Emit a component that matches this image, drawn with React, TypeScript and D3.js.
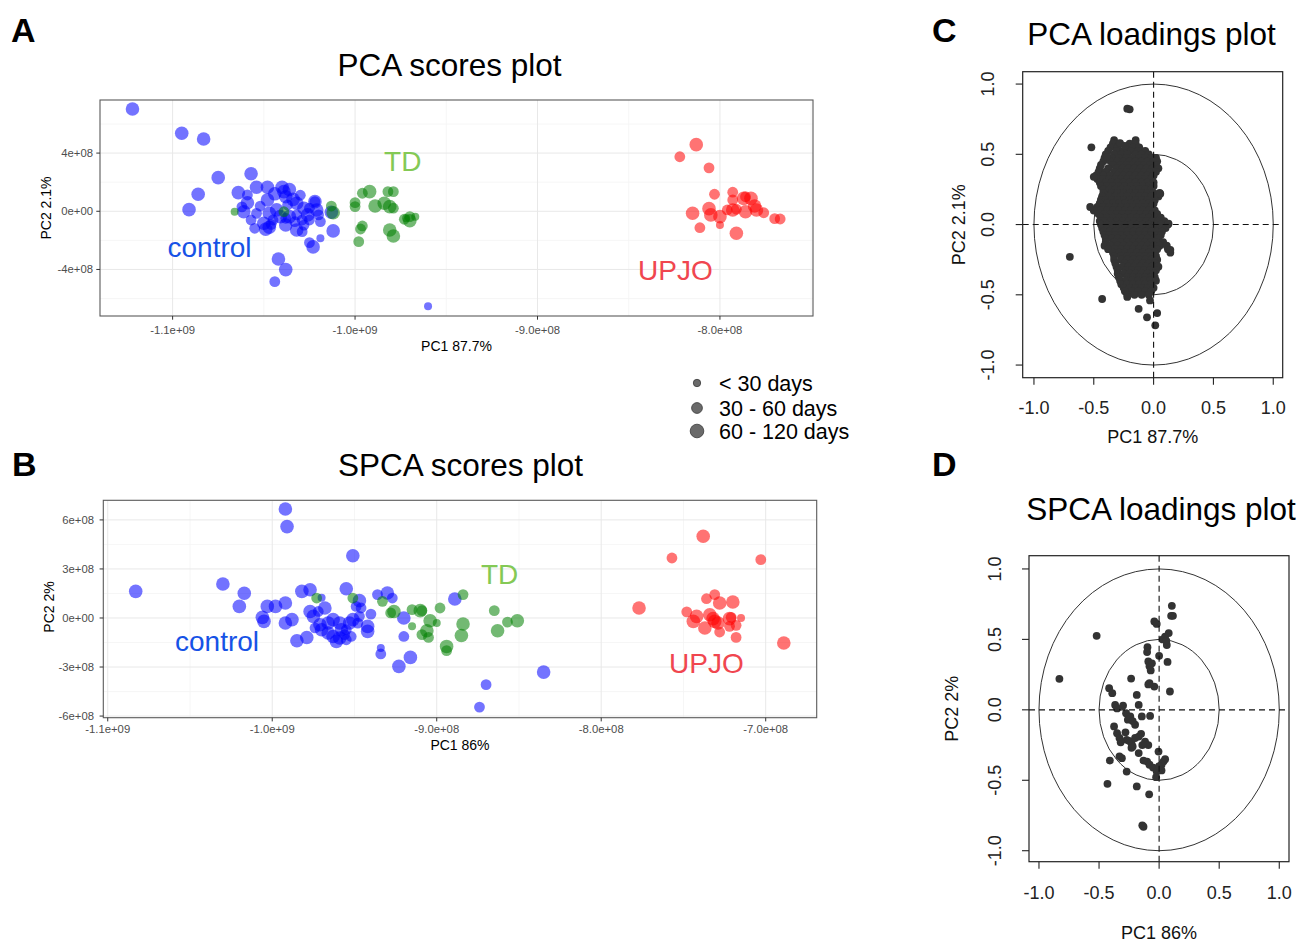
import React from "react";
import * as d3 from "d3";

type ScorePt = [number, number, number]; // [PC1 (x1e8), PC2 (x1e8), size class 1..3]
type LoadPt = [number, number];

// ---------------- Panel A: PCA scores (units of 1e8) ----------------
const pcaControl: ScorePt[] = [
  [-11.22, 7.03, 3], [-10.95, 5.36, 3], [-10.83, 4.97, 3], [-10.75, 2.31, 3], [-10.86, 1.17, 3],
  [-10.91, 0.11, 3], [-10.57, 2.58, 3], [-10.42, -3.28, 3], [-10.38, -4.01, 3], [-10.44, -4.84, 2],
  [-9.6, -6.53, 1], [-10.23, -2.45, 3], [-10.25, -2.16, 2], [-10.19, -1.86, 1], [-10.12, -1.35, 3],
  [-10.13, -0.07, 3], [-10.22, 0.66, 2], [-10.64, 1.28, 3], [-10.59, 1.12, 2], [-10.54, 1.65, 3],
  [-10.48, 1.65, 3], [-10.4, 1.65, 3], [-10.39, 1.35, 3], [-10.59, 0.59, 3], [-10.61, -0.03, 3],
  [-10.54, -0.14, 2], [-10.57, -0.6, 2], [-10.48, 0.78, 3], [-10.52, 0.36, 2], [-10.47, -0.14, 3],
  [-10.5, -0.82, 3], [-10.55, -1.17, 2], [-10.49, -1.24, 3], [-10.47, -1.1, 3], [-10.45, -0.6, 2],
  [-10.41, -0.37, 3], [-10.38, 1.0, 3], [-10.34, 0.82, 3], [-10.32, 0.55, 3], [-10.37, 0.43, 2],
  [-10.38, -0.48, 2], [-10.36, -0.37, 3], [-10.32, -0.25, 2], [-10.38, -0.94, 3], [-10.32, -1.29, 3],
  [-10.29, -1.4, 2], [-10.28, 0.21, 3], [-10.26, -0.25, 3], [-10.25, 0.21, 2], [-10.22, 0.66, 3],
  [-10.21, 0.09, 3], [-10.2, -0.25, 2], [-10.19, -0.71, 2], [-10.25, -0.6, 2], [-10.29, -0.6, 2],
  [-10.33, -0.71, 2], [-10.62, 0.3, 2], [-10.44, 1.2, 3], [-10.36, 1.5, 3], [-10.3, 1.1, 2],
  [-10.43, 0.1, 3], [-10.46, -0.9, 2], [-10.28, -0.95, 2],
];
const pcaTD: ScorePt[] = [
  [-10.66, -0.03, 1], [-10.39, -0.03, 2], [-10.13, 0.36, 2], [-10.12, -0.1, 3], [-9.96, 1.24, 2],
  [-9.92, 1.35, 3], [-10.0, 0.59, 2], [-10.0, 0.32, 2], [-9.89, 0.36, 3], [-9.82, 1.35, 2],
  [-9.79, 1.35, 2], [-9.84, 0.55, 3], [-9.81, 0.32, 3], [-9.79, 0.21, 2], [-9.96, -1.01, 2],
  [-9.97, -1.22, 2], [-9.98, -2.09, 2], [-9.81, -1.29, 3], [-9.79, -1.7, 3], [-9.73, -0.55, 2],
  [-9.7, -0.65, 3], [-9.7, -0.37, 2], [-9.67, -0.37, 1], [-9.72, -0.48, 1],
];
const pcaUPJO: ScorePt[] = [
  [-8.13, 4.58, 3], [-8.22, 3.75, 2], [-8.06, 2.98, 2], [-8.03, 1.17, 2], [-7.93, 1.31, 2],
  [-7.93, 0.78, 2], [-7.87, 0.89, 3], [-7.83, 0.89, 3], [-7.81, 0.36, 3], [-7.86, 1.0, 2],
  [-7.93, 0.09, 3], [-7.91, 0.14, 2], [-7.86, -0.03, 3], [-7.8, 0.09, 3], [-7.76, -0.1, 2],
  [-7.7, -0.51, 2], [-7.67, -0.53, 2], [-8.15, -0.14, 3], [-8.06, 0.18, 3], [-8.05, -0.25, 3],
  [-8.0, -0.37, 3], [-8.0, -0.94, 1], [-8.11, -1.13, 2], [-7.91, -1.51, 3], [-7.96, 0.09, 2],
];

// ---------------- Panel B: SPCA scores (units of 1e8) ----------------
const spcaControl: ScorePt[] = [
  [-10.83, 1.63, 3], [-10.3, 2.08, 3], [-10.17, 1.51, 3], [-10.2, 0.71, 3], [-9.92, 6.67, 3],
  [-9.91, 5.59, 3], [-9.51, 3.81, 3], [-10.06, 0.04, 3], [-10.05, -0.21, 3], [-10.03, 0.71, 3],
  [-9.98, 0.71, 3], [-9.92, 0.92, 3], [-9.92, -0.31, 3], [-9.88, -0.1, 3], [-9.85, -1.39, 3],
  [-9.79, -1.19, 3], [-9.82, 1.63, 3], [-9.77, 1.73, 3], [-9.55, 1.79, 3], [-9.47, 1.06, 3],
  [-9.46, 0.61, 2], [-9.4, 0.24, 2], [-9.42, -0.51, 3], [-9.42, -0.82, 3], [-9.36, 1.43, 2],
  [-9.3, 1.53, 3], [-9.27, 1.22, 2], [-9.2, 0.0, 3], [-9.2, -1.13, 2], [-9.34, -1.84, 1],
  [-9.34, -2.2, 2], [-9.23, -2.96, 3], [-9.16, -2.41, 3], [-9.77, 0.4, 3], [-9.75, 0.1, 3],
  [-9.72, 0.4, 2], [-9.68, 0.61, 3], [-9.71, -0.41, 3], [-9.74, -0.61, 2], [-9.7, -0.72, 3],
  [-9.66, -0.92, 3], [-9.63, -1.13, 3], [-9.59, -1.22, 3], [-9.55, -1.33, 2], [-9.61, -1.43, 3],
  [-9.66, -0.31, 3], [-9.63, -0.1, 3], [-9.59, -0.31, 3], [-9.58, -0.72, 3], [-9.55, -0.72, 2],
  [-9.53, -0.31, 3], [-9.51, -0.1, 3], [-9.48, -0.31, 2], [-9.47, 0.1, 2], [-9.52, -1.13, 2],
  [-9.56, -1.02, 2], [-9.49, 0.71, 2], [-8.89, 1.16, 3], [-8.35, -3.31, 3], [-8.7, -4.08, 2],
  [-8.74, -5.45, 2], [-9.7, 1.24, 1],
];
const spcaTD: ScorePt[] = [
  [-9.73, 1.22, 2], [-9.51, 1.22, 2], [-9.33, 1.02, 2], [-9.28, 0.31, 2], [-9.26, 0.4, 3],
  [-9.15, 0.51, 2], [-9.15, -0.51, 1], [-9.09, 0.45, 2], [-9.06, -0.78, 3], [-9.09, -1.02, 2],
  [-9.05, -1.19, 2], [-8.98, 0.61, 2], [-9.04, -0.17, 3], [-9.0, -0.31, 1], [-8.94, -1.74, 3],
  [-8.94, -2.0, 2], [-8.84, 1.43, 2], [-9.1, 0.45, 3], [-8.84, -0.37, 3], [-8.85, -1.07, 3],
  [-8.65, 0.45, 2], [-8.63, -0.78, 3], [-8.57, -0.25, 2], [-8.51, -0.17, 3],
];
const spcaUPJO: ScorePt[] = [
  [-7.38, 5.0, 3], [-7.57, 3.67, 2], [-7.03, 3.57, 2], [-7.77, 0.61, 3], [-7.36, 1.18, 2],
  [-7.31, 1.43, 2], [-7.28, 0.92, 3], [-7.2, 0.98, 3], [-7.48, 0.37, 2], [-7.42, 0.1, 3],
  [-7.44, -0.21, 3], [-7.37, -0.61, 3], [-7.34, 0.2, 3], [-7.32, -0.04, 3], [-7.29, -0.31, 3],
  [-7.28, -0.86, 2], [-7.22, -0.04, 3], [-7.21, 0.04, 2], [-7.18, -0.45, 2], [-7.15, 0.0, 1],
  [-7.22, -0.51, 2], [-7.18, -1.19, 2], [-6.89, -1.53, 3], [-7.31, -0.21, 3],
];

// Tick values and labels for score plots
const pcaXTicks = [-11, -10, -9, -8];
const pcaXTickLabels = ["-1.1e+09", "-1.0e+09", "-9.0e+08", "-8.0e+08"];
const pcaXMinor = [-10.5, -9.5, -8.5, -7.5];
const pcaYTicks = [4, 0, -4];
const pcaYTickLabels = ["4e+08", "0e+00", "-4e+08"];
const pcaYMinor = [6, 2, -2, -6];

const spcaXTicks = [-11, -10, -9, -8, -7];
const spcaXTickLabels = ["-1.1e+09", "-1.0e+09", "-9.0e+08", "-8.0e+08", "-7.0e+08"];
const spcaXMinor = [-10.5, -9.5, -8.5, -7.5];
const spcaYTicks = [6, 3, 0, -3, -6];
const spcaYTickLabels = ["6e+08", "3e+08", "0e+00", "-3e+08", "-6e+08"];
const spcaYMinor = [4.5, 1.5, -1.5, -4.5];

const sizeLegend = ["< 30 days", "30 - 60 days", "60 - 120 days"];

// ---------------- Panel C: PCA loadings ----------------
// dense cloud typed row by row: [PC2, PC1 values]
const pcaLoadRows: [number, number[]][] = [
  [0.6, [-0.33, -0.15]],
  [0.575, [-0.34, -0.29, -0.2, -0.15]],
  [0.55, [-0.36, -0.3, -0.22, -0.17, -0.12]],
  [0.525, [-0.38, -0.31, -0.25, -0.19, -0.13, -0.07]],
  [0.5, [-0.4, -0.33, -0.27, -0.22, -0.15, -0.1, -0.04]],
  [0.475, [-0.41, -0.35, -0.29, -0.23, -0.18, -0.12, -0.07, -0.02, 0.02]],
  [0.45, [-0.42, -0.36, -0.3, -0.25, -0.2, -0.15, -0.1, -0.05, 0.0, 0.03]],
  [0.425, [-0.44, -0.34, -0.28, -0.23, -0.18, -0.13, -0.08, -0.03, 0.02]],
  [0.4, [-0.45, -0.38, -0.31, -0.26, -0.21, -0.16, -0.11, -0.06, -0.01, 0.04]],
  [0.375, [-0.46, -0.4, -0.33, -0.28, -0.23, -0.18, -0.13, -0.08, -0.03, 0.02]],
  [0.35, [-0.48, -0.42, -0.36, -0.3, -0.25, -0.2, -0.15, -0.1, -0.05, 0.0]],
  [0.325, [-0.47, -0.42, -0.37, -0.32, -0.27, -0.22, -0.17, -0.12, -0.07, -0.02]],
  [0.3, [-0.45, -0.4, -0.35, -0.3, -0.25, -0.2, -0.15, -0.1, -0.05, 0.0]],
  [0.275, [-0.44, -0.39, -0.34, -0.29, -0.24, -0.19, -0.14, -0.09, -0.04, 0.0]],
  [0.25, [-0.42, -0.37, -0.32, -0.27, -0.22, -0.17, -0.12, -0.07, -0.02]],
  [0.225, [-0.42, -0.35, -0.3, -0.25, -0.2, -0.15, -0.1, -0.05, 0.0, 0.05]],
  [0.2, [-0.43, -0.37, -0.32, -0.27, -0.22, -0.17, -0.12, -0.07, -0.02, 0.04]],
  [0.175, [-0.44, -0.4, -0.35, -0.3, -0.25, -0.2, -0.15, -0.1, -0.05, 0.01]],
  [0.15, [-0.45, -0.39, -0.34, -0.29, -0.24, -0.19, -0.14, -0.09, -0.04, 0.0]],
  [0.125, [-0.47, -0.42, -0.37, -0.32, -0.27, -0.22, -0.17, -0.12, -0.07, -0.02]],
  [0.1, [-0.5, -0.44, -0.39, -0.34, -0.29, -0.24, -0.19, -0.14, -0.09, -0.04, 0.01]],
  [0.075, [-0.46, -0.41, -0.36, -0.31, -0.26, -0.21, -0.16, -0.11, -0.06, -0.01, 0.03]],
  [0.05, [-0.44, -0.39, -0.34, -0.29, -0.24, -0.19, -0.14, -0.09, -0.04, 0.01, 0.06]],
  [0.025, [-0.45, -0.41, -0.36, -0.31, -0.26, -0.21, -0.16, -0.11, -0.06, -0.01, 0.04, 0.09]],
  [0.0, [-0.44, -0.39, -0.34, -0.29, -0.24, -0.19, -0.14, -0.09, -0.04, 0.01, 0.06, 0.12]],
  [-0.025, [-0.43, -0.39, -0.34, -0.29, -0.24, -0.19, -0.14, -0.09, -0.04, 0.01, 0.05, 0.1]],
  [-0.05, [-0.42, -0.37, -0.32, -0.27, -0.22, -0.17, -0.12, -0.07, -0.02, 0.03, 0.07]],
  [-0.075, [-0.41, -0.37, -0.32, -0.27, -0.22, -0.17, -0.12, -0.07, -0.02, 0.02, 0.06]],
  [-0.1, [-0.4, -0.35, -0.3, -0.25, -0.2, -0.15, -0.1, -0.05, 0.0, 0.04]],
  [-0.125, [-0.4, -0.33, -0.27, -0.22, -0.17, -0.12, -0.07, -0.02, 0.02, 0.08]],
  [-0.15, [-0.41, -0.36, -0.3, -0.25, -0.2, -0.15, -0.1, -0.05, 0.0, 0.05, 0.11]],
  [-0.175, [-0.38, -0.32, -0.27, -0.22, -0.17, -0.12, -0.07, -0.02, 0.03, 0.12]],
  [-0.2, [-0.34, -0.29, -0.24, -0.19, -0.14, -0.09, -0.04, 0.01, 0.14]],
  [-0.225, [-0.33, -0.27, -0.22, -0.17, -0.12, -0.07, -0.02, 0.02]],
  [-0.25, [-0.33, -0.27, -0.22, -0.17, -0.12, -0.07, -0.02, 0.03]],
  [-0.275, [-0.32, -0.24, -0.19, -0.14, -0.09, -0.04, 0.01]],
  [-0.3, [-0.31, -0.26, -0.21, -0.16, -0.11, -0.06, -0.01, 0.04]],
  [-0.325, [-0.3, -0.23, -0.18, -0.13, -0.08, -0.03, 0.02]],
  [-0.35, [-0.3, -0.25, -0.2, -0.15, -0.1, -0.05, 0.0]],
  [-0.375, [-0.29, -0.22, -0.17, -0.12, -0.07, -0.02, 0.01]],
  [-0.4, [-0.28, -0.23, -0.18, -0.13, -0.08, -0.03, 0.02]],
  [-0.425, [-0.27, -0.22, -0.17, -0.12, -0.07, -0.02]],
  [-0.45, [-0.25, -0.2, -0.15, -0.1, -0.05, 0.0]],
  [-0.475, [-0.24, -0.18, -0.13, -0.07, -0.02]],
  [-0.5, [-0.22, -0.16, -0.1, -0.04]],
];
const pcaLoadOutliers: LoadPt[] = [
  [-0.52, 0.55], [-0.39, 0.48], [-0.5, 0.34], [-0.53, 0.125], [0.056, 0.22], [0.125, 0.007],
  [0.14, -0.18], [-0.22, -0.515], [-0.43, -0.53], [-0.125, -0.6], [-0.055, -0.66], [0.03, -0.63],
  [0.014, -0.717], [-0.03, -0.54], [-0.7, -0.23], [-0.22, 0.825], [-0.2, 0.82], [-0.28, 0.58],
  [-0.24, 0.56],
];

// ---------------- Panel D: SPCA loadings ----------------
const spcaLoad: LoadPt[] = [
  [0.106, 0.738], [0.1, 0.667], [0.115, 0.667], [-0.04, 0.627], [-0.02, 0.61], [-0.52, 0.525],
  [0.05, 0.52], [0.08, 0.545], [0.03, 0.5], [0.064, 0.46], [0.06, 0.49], [-0.097, 0.445],
  [-0.1, 0.41], [0.0, 0.383], [0.07, 0.34], [-0.09, 0.343], [-0.08, 0.31], [-0.07, 0.28],
  [-0.83, 0.22], [-0.233, 0.222], [-0.08, 0.19], [-0.04, 0.165], [0.09, 0.13], [-0.416, 0.154],
  [-0.39, 0.118], [-0.186, 0.106], [-0.366, 0.035], [-0.35, 0.01], [-0.17, 0.035], [-0.275, -0.024],
  [-0.24, -0.047], [-0.26, -0.07], [-0.144, -0.047], [-0.075, -0.043], [-0.2, -0.106], [-0.375, -0.118],
  [-0.35, -0.166], [-0.33, -0.2], [-0.27, -0.213], [-0.23, -0.237], [-0.23, -0.27], [-0.17, -0.19],
  [-0.15, -0.17], [-0.117, -0.225], [-0.09, -0.25], [-0.14, -0.25], [-0.17, -0.307], [-0.005, -0.296],
  [-0.31, -0.343], [-0.33, -0.33], [-0.41, -0.36], [-0.1, -0.367], [-0.08, -0.39], [-0.05, -0.41],
  [-0.02, -0.438], [0.036, -0.367], [0.05, -0.35], [0.02, -0.39], [0.02, -0.43], [0.0, -0.4],
  [-0.025, -0.478], [-0.27, -0.438], [-0.43, -0.525], [-0.186, -0.544], [-0.083, -0.6], [-0.13, -0.83],
  [-0.14, -0.82], [-0.22, -0.26], [-0.25, -0.22], [-0.28, -0.16], [-0.32, -0.23], [-0.2, -0.2],
  [-0.13, -0.36], [-0.06, 0.33], [-0.09, 0.18], [-0.22, -0.08], [-0.3, 0.03],
];

const loadTicks = [-1, -0.5, 0, 0.5, 1];
const loadTickLabels = ["-1.0", "-0.5", "0.0", "0.5", "1.0"];

// ---------------- rendering ----------------
const FONT = "'Liberation Sans', Arial, Helvetica, sans-serif";
const SIZE_R = [0, 4, 5.4, 6.8];
const BLUE = "#0000ff";
const GREEN = "#008000";
const RED = "#ff0000";

type Box = { l: number; r: number; t: number; b: number };

function ScoresPanel(p: any) {
  const { box } = p as { box: Box };
  const x = d3.scaleLinear().domain(p.xDomain).range([box.l, box.r]);
  const y = d3.scaleLinear().domain(p.yDomain).range([box.b, box.t]);
  return (
    <g>
      <rect x={box.l} y={box.t} width={box.r - box.l} height={box.b - box.t} fill="#fff" />
      {p.xMinor.map((v: number) => (
        <line key={"xm" + v} x1={x(v)} x2={x(v)} y1={box.t} y2={box.b} stroke="#f4f4f4" strokeWidth={0.8} />
      ))}
      {p.yMinor.map((v: number) => (
        <line key={"ym" + v} x1={box.l} x2={box.r} y1={y(v)} y2={y(v)} stroke="#f4f4f4" strokeWidth={0.8} />
      ))}
      {p.xTicks.map((v: number) => (
        <line key={"xg" + v} x1={x(v)} x2={x(v)} y1={box.t} y2={box.b} stroke="#e8e8e8" strokeWidth={1} />
      ))}
      {p.yTicks.map((v: number) => (
        <line key={"yg" + v} x1={box.l} x2={box.r} y1={y(v)} y2={y(v)} stroke="#e8e8e8" strokeWidth={1} />
      ))}
      {p.series.map((s: any, si: number) =>
        s.pts.map((d: ScorePt, i: number) => (
          <circle key={si + "-" + i} cx={x(d[0])} cy={y(d[1])} r={SIZE_R[d[2]]} fill={s.color} fillOpacity={0.55} />
        ))
      )}
      {p.labels.map((lb: any) => (
        <text key={lb.text} x={x(lb.x)} y={y(lb.y)} fill={lb.color} fontSize={28} fontFamily={FONT}>
          {lb.text}
        </text>
      ))}
      <rect x={box.l} y={box.t} width={box.r - box.l} height={box.b - box.t} fill="none" stroke="#5a5a5a" strokeWidth={1.1} />
      {p.xTicks.map((v: number, i: number) => (
        <g key={"xt" + v}>
          <line x1={x(v)} x2={x(v)} y1={box.b} y2={box.b + 3.7} stroke="#333" strokeWidth={1} />
          <text x={x(v)} y={p.xTickY} textAnchor="middle" fontSize={11.3} fill="#4d4d4d" fontFamily={FONT}>
            {p.xTickLabels[i]}
          </text>
        </g>
      ))}
      {p.yTicks.map((v: number, i: number) => (
        <g key={"yt" + v}>
          <line x1={box.l - 3.7} x2={box.l} y1={y(v)} y2={y(v)} stroke="#333" strokeWidth={1} />
          <text x={p.yTickX} y={y(v)} dy="0.35em" textAnchor="end" fontSize={11.3} fill="#4d4d4d" fontFamily={FONT}>
            {p.yTickLabels[i]}
          </text>
        </g>
      ))}
      <text x={(box.l + box.r) / 2} y={p.xTitleY} textAnchor="middle" fontSize={14} fill="#000" fontFamily={FONT}>
        {p.xTitle}
      </text>
      <text
        transform={`translate(${p.yTitleX},${p.yTitleY}) rotate(-90)`}
        textAnchor="middle"
        dominantBaseline="central"
        fontSize={14}
        fill="#000"
        fontFamily={FONT}
      >
        {p.yTitle}
      </text>
    </g>
  );
}

function LoadingsPanel(p: any) {
  const { box } = p as { box: Box };
  const x = d3.scaleLinear().domain(p.xDomain).range([box.l, box.r]);
  const y = d3.scaleLinear().domain(p.yDomain).range([box.b, box.t]);
  const pts: LoadPt[] = p.pts;
  return (
    <g>
      <ellipse cx={x(0)} cy={y(0)} rx={x(1) - x(0)} ry={y(0) - y(1)} fill="none" stroke="#333" strokeWidth={1} />
      <ellipse cx={x(0)} cy={y(0)} rx={x(0.5) - x(0)} ry={y(0) - y(0.5)} fill="none" stroke="#333" strokeWidth={1} />
      {pts.map((d, i) => (
        <circle key={i} cx={x(d[0])} cy={y(d[1])} r={3.9} fill="#333" />
      ))}
      <line x1={box.l} x2={box.r} y1={y(0)} y2={y(0)} stroke="#111" strokeWidth={1.1} strokeDasharray="6,4" />
      <line x1={x(0)} x2={x(0)} y1={box.t} y2={box.b} stroke="#111" strokeWidth={1.1} strokeDasharray="6,4" />
      <rect x={box.l} y={box.t} width={box.r - box.l} height={box.b - box.t} fill="none" stroke="#222" strokeWidth={1.2} />
      {loadTicks.map((v, i) => (
        <g key={"x" + v}>
          <line x1={x(v)} x2={x(v)} y1={box.b} y2={box.b + 7} stroke="#222" strokeWidth={1.1} />
          <text x={x(v)} y={p.xTickY} textAnchor="middle" fontSize={18} fill="#222" fontFamily={FONT}>
            {loadTickLabels[i]}
          </text>
        </g>
      ))}
      {loadTicks.map((v, i) => (
        <g key={"y" + v}>
          <line x1={box.l - 7} x2={box.l} y1={y(v)} y2={y(v)} stroke="#222" strokeWidth={1.1} />
          <text
            transform={`translate(${p.yTickX},${y(v)}) rotate(-90)`}
            textAnchor="middle"
            dominantBaseline="central"
            fontSize={18}
            fill="#222"
            fontFamily={FONT}
          >
            {loadTickLabels[i]}
          </text>
        </g>
      ))}
      <text x={(box.l + box.r) / 2} y={p.xTitleY} textAnchor="middle" fontSize={18} fill="#111" fontFamily={FONT}>
        {p.xTitle}
      </text>
      <text
        transform={`translate(${p.yTitleX},${(box.t + box.b) / 2}) rotate(-90)`}
        textAnchor="middle"
        dominantBaseline="central"
        fontSize={18}
        fill="#111"
        fontFamily={FONT}
      >
        {p.yTitle}
      </text>
    </g>
  );
}

export default function App() {
  const pcaLoad: LoadPt[] = [
    ...pcaLoadRows.flatMap(([yy, xs]) => xs.map((xx) => [xx, yy] as LoadPt)),
    ...pcaLoadOutliers,
  ];
  const legendR = [SIZE_R[1] - 0.3, SIZE_R[2], SIZE_R[3]];
  const legendY = [383, 408, 431];
  return (
    <svg
      width={1302}
      height={942}
      viewBox="0 0 1302 942"
      style={{ position: "absolute", left: 0, top: 0, background: "#fff" }}
      fontFamily={FONT}
    >
      <rect x={0} y={0} width={1302} height={942} fill="#fff" />
      {/* panel letters */}
      <text x={11} y={42} fontSize={34} fontWeight="bold">A</text>
      <text x={12} y={476} fontSize={34} fontWeight="bold">B</text>
      <text x={932} y={42} fontSize={34} fontWeight="bold">C</text>
      <text x={932} y={476} fontSize={34} fontWeight="bold">D</text>

      {/* titles */}
      <text x={449.5} y={76} textAnchor="middle" fontSize={31.5}>PCA scores plot</text>
      <text x={460.5} y={476} textAnchor="middle" fontSize={31.5}>SPCA scores plot</text>
      <text x={1151.5} y={45} textAnchor="middle" fontSize={31.5}>PCA loadings plot</text>
      <text x={1161} y={520} textAnchor="middle" fontSize={31.5}>SPCA loadings plot</text>

      <ScoresPanel
        box={{ l: 100, r: 813, t: 100, b: 316 }}
        xDomain={[-11.398, -7.49]}
        yDomain={[-7.2, 7.65]}
        xTicks={pcaXTicks}
        xTickLabels={pcaXTickLabels}
        xMinor={pcaXMinor}
        yTicks={pcaYTicks}
        yTickLabels={pcaYTickLabels}
        yMinor={pcaYMinor}
        series={[
          { pts: pcaControl, color: BLUE },
          { pts: pcaTD, color: GREEN },
          { pts: pcaUPJO, color: RED },
        ]}
        labels={[
          { text: "control", x: -11.028, y: -3.14, color: "#1652e6" },
          { text: "TD", x: -9.841, y: 2.775, color: "#84c955" },
          { text: "UPJO", x: -8.449, y: -4.758, color: "#f0464f" },
        ]}
        xTickY={334}
        xTitleY={351}
        yTickX={93}
        yTitleX={46}
        yTitleY={208}
        xTitle="PC1 87.7%"
        yTitle="PC2 2.1%"
      />

      <ScoresPanel
        box={{ l: 103.3, r: 816.7, t: 500.3, b: 717.7 }}
        xDomain={[-11.027, -6.69]}
        yDomain={[-6.1, 7.2]}
        xTicks={spcaXTicks}
        xTickLabels={spcaXTickLabels}
        xMinor={spcaXMinor}
        yTicks={spcaYTicks}
        yTickLabels={spcaYTickLabels}
        yMinor={spcaYMinor}
        series={[
          { pts: spcaControl, color: BLUE },
          { pts: spcaTD, color: GREEN },
          { pts: spcaUPJO, color: RED },
        ]}
        labels={[
          { text: "control", x: -10.591, y: -2.02, color: "#1652e6" },
          { text: "TD", x: -8.731, y: 2.08, color: "#84c955" },
          { text: "UPJO", x: -7.588, y: -3.365, color: "#f0464f" },
        ]}
        xTickY={733}
        xTitleY={750}
        yTickX={94}
        yTitleX={49}
        yTitleY={607}
        xTitle="PC1 86%"
        yTitle="PC2 2%"
      />

      {/* size legend */}
      {sizeLegend.map((t, i) => (
        <g key={t}>
          <circle cx={697} cy={legendY[i]} r={legendR[i]} fill="#6a6a6a" stroke="#3a3a3a" strokeWidth={0.8} />
          <text x={719} y={legendY[i] + 7.5} fontSize={21.5} fill="#000">{t}</text>
        </g>
      ))}

      <LoadingsPanel
        box={{ l: 1022.7, r: 1282.7, t: 71.7, b: 377.7 }}
        xDomain={[-1.094, 1.079]}
        yDomain={[-1.09, 1.088]}
        pts={pcaLoad}
        xTickY={414}
        xTitleY={443}
        yTickX={988}
        yTitleX={959}
        xTitle="PC1 87.7%"
        yTitle="PC2 2.1%"
      />

      <LoadingsPanel
        box={{ l: 1029, r: 1289, t: 555.7, b: 861.7 }}
        xDomain={[-1.083, 1.081]}
        yDomain={[-1.078, 1.094]}
        pts={spcaLoad}
        xTickY={899}
        xTitleY={939}
        yTickX={995}
        yTitleX={952}
        xTitle="PC1 86%"
        yTitle="PC2 2%"
      />
    </svg>
  );
}
